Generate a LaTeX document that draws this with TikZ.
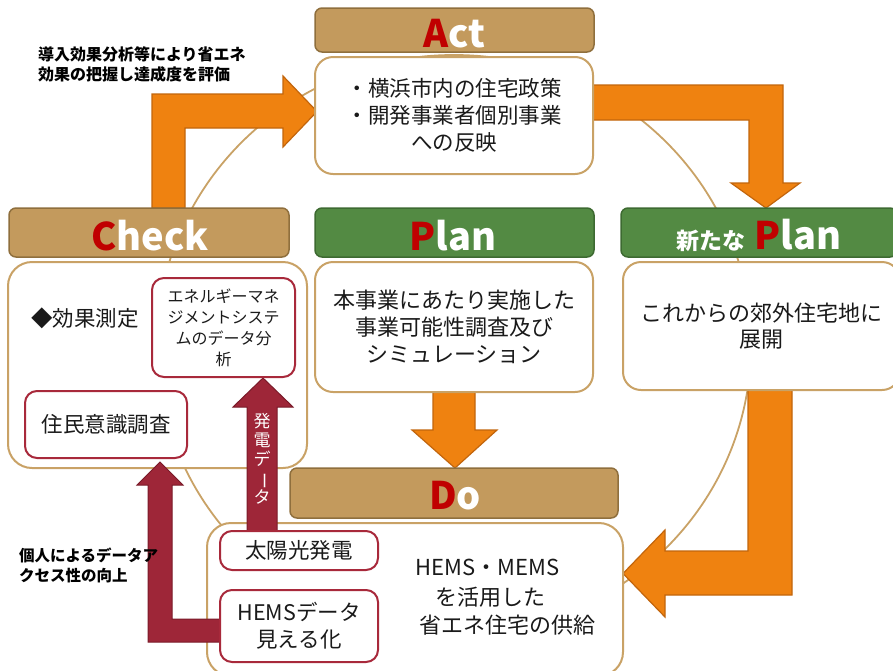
\documentclass[tikz,border=0pt]{standalone}
\usepackage{fontspec}
\setmainfont{Noto Sans CJK JP}
\definecolor{hdrbrown}{HTML}{C39A5D}
\definecolor{hdrbrownD}{HTML}{8F6F3D}
\definecolor{hdrgreen}{HTML}{538A43}
\definecolor{hdrgreenD}{HTML}{3D6A31}
\definecolor{tanline}{HTML}{C9A266}
\definecolor{boxred}{HTML}{A8293B}
\definecolor{arrred}{HTML}{9E2638}
\definecolor{arrredD}{HTML}{7A1A29}
\definecolor{orangeF}{HTML}{EF8210}
\definecolor{orangeD}{HTML}{C2650C}
\definecolor{letterred}{HTML}{C00000}
\definecolor{txt}{HTML}{1A1A1A}
\begin{document}
\begin{tikzpicture}[x=1pt,y=-1pt,
  every node/.style={inner sep=0pt, outer sep=0pt, text=txt},
  hdrb/.style={fill=hdrbrown, draw=hdrbrownD, line width=1.5pt, rounded corners=7pt},
  hdrg/.style={fill=hdrgreen, draw=hdrgreenD, line width=1.5pt, rounded corners=7pt},
  hdrtxt/.style={anchor=base, text=white, font=\bfseries\fontsize{38}{42}\selectfont},
  tanbox/.style={fill=white, draw=tanline, line width=2pt, rounded corners=18pt},
  redbox/.style={fill=white, draw=boxred, line width=2pt, rounded corners=12pt},
  orarrow/.style={fill=orangeF, draw=orangeD, line width=1.2pt, line join=miter},
  redarrow/.style={fill=arrred, draw=arrredD, line width=1pt},
  big/.style={font=\fontsize{21.5}{27}\selectfont},
  note/.style={anchor=west, align=left, font=\bfseries\fontsize{16}{19.5}\selectfont, text=black}
]
\useasboundingbox (0,0) rectangle (893,670);
% cycle ellipse
\draw[tanline, line width=1.8pt] (454,345) ellipse [x radius=297pt, y radius=290pt];
% orange arrows
\draw[orarrow] (152,208) -- (152,94) -- (283,94) -- (283,76) -- (317,111.5) -- (283,147) -- (283,128) -- (185,128) -- (185,208) -- cycle;
\draw[orarrow] (590,85) -- (783,85) -- (783,183) -- (800,183) -- (766,208) -- (731,183) -- (749,183) -- (749,120) -- (590,120) -- cycle;
\draw[orarrow] (748,386) -- (792,386) -- (792,595) -- (665,595) -- (665,617) -- (623,573.5) -- (665,530) -- (665,551) -- (748,551) -- cycle;
\draw[orarrow] (433,390) -- (475,390) -- (475,430) -- (497,430) -- (455,468) -- (412,430) -- (433,430) -- cycle;
% headers
\node[hdrb, minimum width=279pt, minimum height=44pt] (acthdr) at (454.5,30) {};
\node[hdrb, minimum width=280pt, minimum height=49pt] (chkhdr) at (149,232.5) {};
\node[hdrg, minimum width=279pt, minimum height=49pt] (planhdr) at (454.5,232.5) {};
\node[hdrg, minimum width=276pt, minimum height=49pt] (nphdr) at (759,232.5) {};
\node[hdrb, minimum width=328pt, minimum height=50pt] (dohdr) at (454,493) {};
\node[hdrtxt] (acttxt) at (454,47) {\textcolor{letterred}{A}ct};
\node[hdrtxt] (chktxt) at (150,250) {\textcolor{letterred}{C}heck};
\node[hdrtxt] (plantxt) at (453,250) {\textcolor{letterred}{P}lan};
\node[hdrtxt] (dotxt) at (455,509) {\textcolor{letterred}{D}o};
\node[hdrtxt] (nptxt) at (759,249) {{\fontsize{23}{26}\selectfont 新たな} \textcolor{letterred}{P}lan};
% big boxes
\node[tanbox, minimum width=278pt, minimum height=117pt, big, align=center] (actbox) at (454,115.5)
  {・横浜市内の住宅政策\\・開発事業者個別事業\\への反映};
\node[tanbox, rounded corners=24pt, minimum width=299pt, minimum height=206pt] (chkbox) at (157.5,365) {};
\node[tanbox, minimum width=278pt, minimum height=130pt, align=center, font=\fontsize{22}{27}\selectfont] (planbox) at (454,327)
  {本事業にあたり実施した\\事業可能性調査及び\\シミュレーション};
\node[tanbox, minimum width=277pt, minimum height=128pt, align=center, font=\fontsize{22}{26.5}\selectfont] (npbox) at (761.5,326)
  {これからの郊外住宅地に\\展開};
\node[tanbox, rounded corners=24pt, minimum width=416pt, minimum height=153pt] (dobox) at (415,599.5) {};
% red arrows
\draw[redarrow] (247,535) -- (247,407) -- (233,407) -- (263,378) -- (293,407) -- (277,407) -- (277,535) -- cycle;
\draw[redarrow] (224,619) -- (172,619) -- (172,485) -- (183,485) -- (160,462) -- (137,485) -- (148,485) -- (148,642) -- (224,642) -- cycle;
\node[text=white, align=center, font=\fontsize{17}{19}\selectfont] (gendata) at (262,459)
  {発\\電\\デ\\\rotatebox[origin=c]{-90}{ー}\\タ};
% small boxes
\node[redbox, minimum width=143pt, minimum height=99pt, align=center, font=\fontsize{16}{21}\selectfont] (energy) at (223.5,327.5)
  {エネルギーマネ\\ジメントシステ\\ムのデータ分\\析};
\node[redbox, minimum width=162pt, minimum height=67pt, big] (survey) at (106,424.5) {住民意識調査};
\node[redbox, minimum width=158pt, minimum height=39pt, big] (solar) at (299,550.5) {太陽光発電};
\node[redbox, minimum width=158pt, minimum height=72pt, big, align=center] (hems) at (299,626) {HEMSデータ\\見える化};
% texts
\node[anchor=west, big] (kouka) at (31,318) {◆効果測定};
\node[font=\fontsize{22}{27}\selectfont] (do1) at (487.5,567) {HEMS・MEMS};
\node[font=\fontsize{22}{27}\selectfont] (do2) at (490,597) {を活用した};
\node[font=\fontsize{22}{27}\selectfont] (do3) at (507,625) {省エネ住宅の供給};
\node[note] (note1) at (38,64.5) {導入効果分析等により省エネ\\効果の把握し達成度を評価};
\node[note, font=\bfseries\fontsize{15.5}{20}\selectfont] (note2) at (19,565) {個人によるデータア\\クセス性の向上};
\end{tikzpicture}
\end{document}
